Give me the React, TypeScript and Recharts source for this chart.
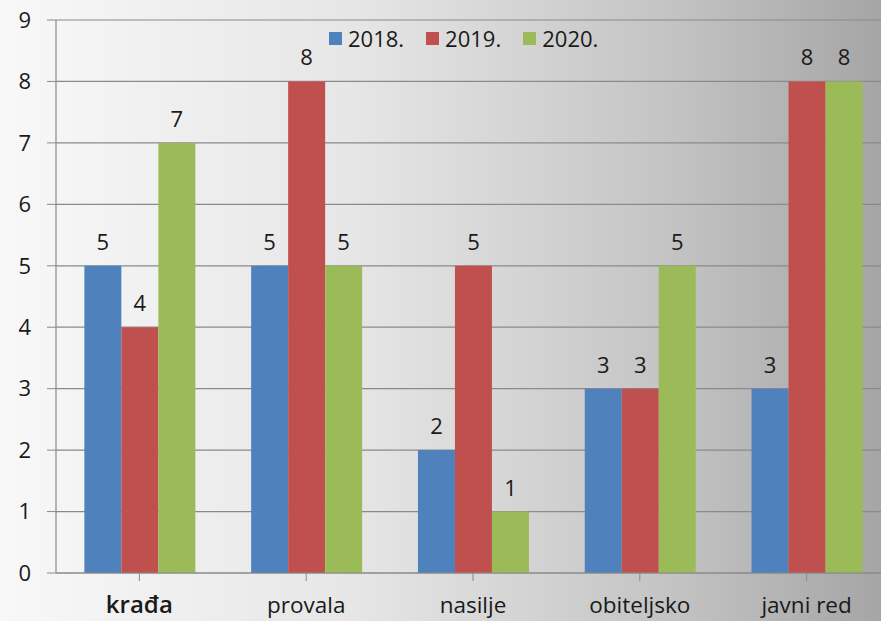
import { BarChart, Bar, XAxis, YAxis, CartesianGrid, Legend, LabelList } from "recharts";

const categories = ["krađa", "provala", "nasilje", "obiteljsko", "javni red"];
const values2018 = [5, 5, 2, 3, 3];
const values2019 = [4, 8, 5, 3, 8];
const values2020 = [7, 5, 1, 5, 8];
const yTicks = [0, 1, 2, 3, 4, 5, 6, 7, 8, 9];

const series = [
  { key: "y2018", name: "2018.", color: "#4F81BD" },
  { key: "y2019", name: "2019.", color: "#C0504D" },
  { key: "y2020", name: "2020.", color: "#9BBB59" },
];

const data = categories.map((c, i) => ({
  name: c,
  y2018: values2018[i],
  y2019: values2019[i],
  y2020: values2020[i],
}));

const font = "'Open Sans', 'Noto Sans', sans-serif";

function XTick(props: any) {
  const { x, y, payload } = props;
  const first = payload.value === categories[0];
  return (
    <text
      x={x}
      y={y + 30}
      textAnchor="middle"
      fontFamily={font}
      fontSize={first ? 24 : 22.5}
      fontWeight={first ? 600 : 400}
      fill="#1a1a1a"
    >
      {payload.value}
    </text>
  );
}

function LegendBox() {
  return (
    <div style={{ display: "flex", gap: 22, fontFamily: font, fontSize: 22, color: "#1a1a1a", lineHeight: "26px" }}>
      {series.map((s) => (
        <div key={s.key} style={{ display: "flex", alignItems: "center" }}>
          <span style={{ width: 13, height: 13, background: s.color, marginRight: 6, display: "inline-block" }} />
          {s.name}
        </div>
      ))}
    </div>
  );
}

export default function App() {
  return (
    <div style={{ position: "fixed", top: 0, left: 0, width: 881, height: 621, overflow: "hidden" }}>
      <div
        style={{
          width: 890,
          height: 621,
          background: "linear-gradient(to right, #f8f8f8 0%, #e6e6e6 40%, #c4c4c4 75%, #a4a4a4 100%)",
        }}
      >
        <BarChart
          width={890}
          height={621}
          data={data}
          margin={{ top: 20, right: 0, bottom: 0, left: 0 }}
          barCategoryGap="17%"
          barGap={0}
        >
          <CartesianGrid vertical={false} stroke="#8a8a8a" strokeWidth={1.2} />
          <XAxis
            dataKey="name"
            height={48}
            tick={<XTick />}
            tickLine={{ stroke: "#8a8a8a" }}
            axisLine={{ stroke: "#8a8a8a", strokeWidth: 1.2 }}
            tickSize={8}
            interval={0}
          />
          <YAxis
            width={56}
            domain={[0, 9]}
            ticks={yTicks}
            interval={0}
            tickSize={9}
            tickMargin={16}
            tick={{ fontFamily: font, fontSize: 22, fill: "#1a1a1a" }}
            tickLine={{ stroke: "#8a8a8a" }}
            axisLine={{ stroke: "#8a8a8a", strokeWidth: 1.2 }}
          />
          <Legend
            verticalAlign="middle"
            align="center"
            content={<LegendBox />}
            wrapperStyle={{ top: 25, left: 329, width: 340 }}
          />
          {series.map((s) => (
            <Bar key={s.key} dataKey={s.key} name={s.name} fill={s.color} isAnimationActive={false}>
              <LabelList
                dataKey={s.key}
                position="top"
                offset={16}
                style={{ fontFamily: font, fontSize: 22, fill: "#1a1a1a" }}
              />
            </Bar>
          ))}
        </BarChart>
      </div>
    </div>
  );
}
